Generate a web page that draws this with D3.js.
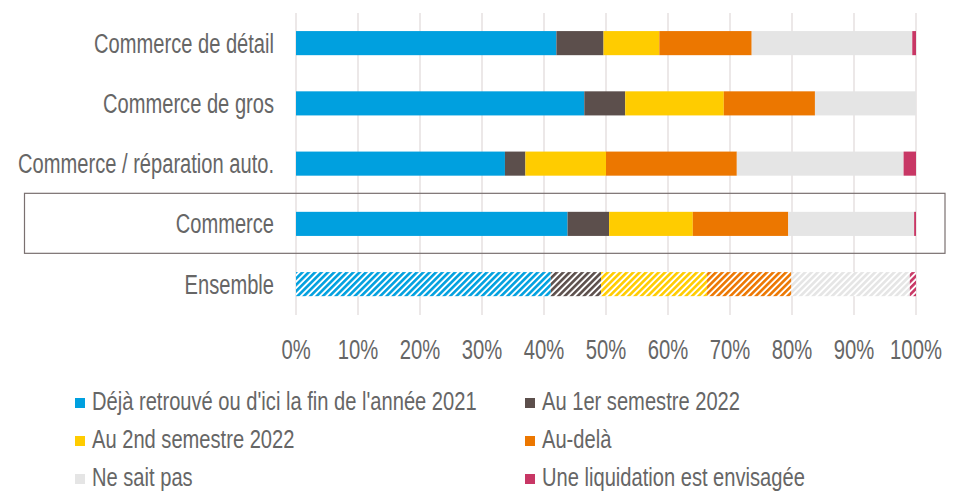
<!DOCTYPE html>
<html>
<head>
<meta charset="utf-8">
<script src="https://cdn.jsdelivr.net/npm/d3@7"></script>
<style>
  body { margin: 0; background: #fff; }
  text { font-family: "Liberation Sans", Arial, sans-serif; fill: #666; }
</style>
</head>
<body>
<svg id="chart" width="964" height="491"></svg>
<script>
// categories (top to bottom)
var categories = ["Commerce de détail", "Commerce de gros", "Commerce / réparation auto.", "Commerce", "Ensemble"];

// series values, in % per category
var series = ["Déjà retrouvé ou d'ici la fin de l'année 2021", "Au 1er semestre 2022", "Au 2nd semestre 2022", "Au-delà", "Ne sait pas", "Une liquidation est envisagée"];
var deja = [42.0, 46.5, 33.7, 43.8, 41.1];
var sem1 = [7.6, 6.6, 3.3, 6.7, 8.1];
var sem2 = [9.0, 15.9, 13.0, 13.5, 17.1];
var audela = [14.9, 14.7, 21.1, 15.4, 13.6];
var nsp = [25.9, 16.3, 26.9, 20.3, 19.1];
var liquid = [0.6, 0.0, 2.0, 0.3, 1.0];

var ticks = [0, 10, 20, 30, 40, 50, 60, 70, 80, 90, 100];

var colors = ["#00a0df", "#5c4f4c", "#ffcc00", "#ec7700", "#e5e5e5", "#c83765"];

var svg = d3.select("#chart");
var defs = svg.append("defs");

// build table for stacking
var keys = ["deja", "sem1", "sem2", "audela", "nsp", "liquid"];
var table = categories.map(function (c, i) {
  return { cat: c, deja: deja[i], sem1: sem1[i], sem2: sem2[i], audela: audela[i], nsp: nsp[i], liquid: liquid[i] };
});
var stacked = d3.stack().keys(keys)(table);

var x = d3.scaleLinear().domain([0, 100]).range([296, 916]);
var y = d3.scaleBand().domain(categories).range([13, 314.25]).paddingInner(0.6).paddingOuter(0.3);

// narrow font: no condensed face installed, so squeeze horizontally
function narrow(sel, sx) {
  sel.attr("transform", function () {
    var t = d3.select(this);
    return "translate(" + t.attr("data-x") + "," + t.attr("data-y") + ") scale(" + sx + ",1)";
  });
}

// hatch patterns for "Ensemble"
colors.forEach(function (c, i) {
  var p = defs.append("pattern")
    .attr("id", "hatch" + i)
    .attr("patternUnits", "userSpaceOnUse")
    .attr("width", 4.5).attr("height", 4.5)
    .attr("patternTransform", "rotate(45)");
  p.append("rect").attr("width", 4.5).attr("height", 4.5).attr("fill", "#fff");
  p.append("rect").attr("width", 2.6).attr("height", 4.5).attr("fill", c);
});

// gridlines
svg.append("g").selectAll("line").data(ticks).join("line")
  .attr("x1", d => x(d)).attr("x2", d => x(d))
  .attr("y1", 13).attr("y2", 315)
  .attr("stroke", "#e6e0e0").attr("stroke-width", 1.5);

// highlight box around "Commerce"
svg.append("rect")
  .attr("x", 24.5).attr("y", y("Commerce") - 18.5)
  .attr("width", 920.5).attr("height", 60)
  .attr("fill", "none").attr("stroke", "#7a7070").attr("stroke-width", 1.2);

// bars
svg.append("g").selectAll("g").data(stacked).join("g")
  .each(function (s, si) {
    d3.select(this).selectAll("rect").data(s).join("rect")
      .attr("x", d => x(d[0]))
      .attr("width", d => x(d[1]) - x(d[0]))
      .attr("y", d => y(d.data.cat))
      .attr("height", y.bandwidth())
      .attr("fill", d => d.data.cat === "Ensemble" ? "url(#hatch" + si + ")" : colors[si]);
  });

// category labels
svg.append("g").selectAll("text").data(categories).join("text")
  .attr("data-x", 274)
  .attr("data-y", d => y(d) + y.bandwidth() / 2)
  .attr("dy", "0.35em")
  .attr("text-anchor", "end")
  .attr("font-size", 27)
  .text(d => d)
  .call(narrow, 0.745);

// x axis tick labels
svg.append("g").selectAll("text").data(ticks).join("text")
  .attr("data-x", d => x(d))
  .attr("data-y", 359)
  .attr("text-anchor", "middle")
  .attr("font-size", 27)
  .text(d => d + "%")
  .call(narrow, 0.75);

// legend
var legendPos = [[75, 402], [525, 402], [75, 440], [525, 440], [75, 478], [525, 478]];
var lg = svg.append("g").selectAll("g").data(series).join("g")
  .attr("transform", (d, i) => "translate(" + legendPos[i][0] + "," + legendPos[i][1] + ")");
lg.append("rect").attr("x", 0).attr("y", -4).attr("width", 10).attr("height", 10)
  .attr("fill", (d, i) => colors[i]);
lg.append("text")
  .attr("data-x", 17).attr("data-y", 0)
  .attr("dy", "0.33em").attr("font-size", 25)
  .text(d => d)
  .call(narrow, 0.805);
</script>
</body>
</html>
